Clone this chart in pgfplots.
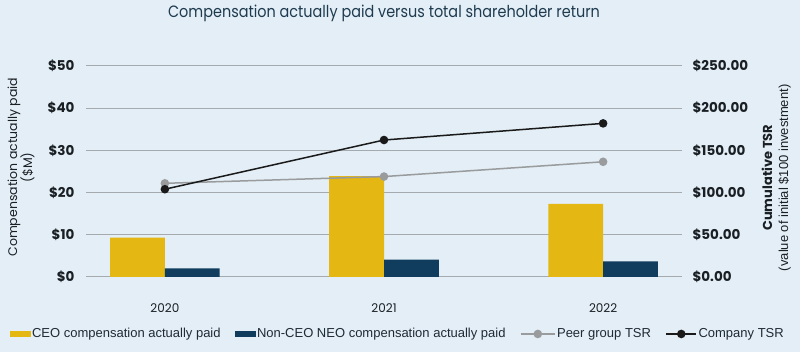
\documentclass[border=0pt]{standalone}
\usepackage{pgfplots}
\pgfplotsset{compat=1.18}
\usepackage{fontspec}
\setmainfont{Poppins}
\newfontfamily\legfont{Liberation Sans}
\newfontfamily\titlefont[FakeStretch=0.88]{Poppins}
\definecolor{bg}{HTML}{E3EEF6}
\definecolor{titlec}{HTML}{1F3B4F}
\definecolor{tickc}{HTML}{1A1F24}
\definecolor{gridc}{HTML}{A5AAAE}
\definecolor{ceoc}{HTML}{E4B712}
\definecolor{neoc}{HTML}{103D5E}
\definecolor{peerc}{HTML}{999B9D}
\definecolor{compc}{HTML}{1A1A1A}
\definecolor{legc}{HTML}{1E2A35}
\begin{document}
\begin{tikzpicture}[x=1pt,y=1pt]
\fill[bg] (0,0) rectangle (800,352);
\node[font=\titlefont\fontsize{16.4}{18}\selectfont, text=titlec] at (384,339) {Compensation actually paid versus total shareholder return};
\begin{axis}[
  at={(86pt,75pt)}, anchor=south west, scale only axis,
  width=596pt, height=211pt,
  xmin=-0.36, xmax=2.36, ymin=0, ymax=50,
  axis line style={draw=none}, major tick length=0pt,
  ymajorgrids, grid style={color=gridc, line width=1pt},
  ytick={0,10,20,30,40,50},
  yticklabels={\$0,\$10,\$20,\$30,\$40,\$50},
  yticklabel style={font=\bfseries\fontsize{13.5}{15}\selectfont, text=tickc, xshift=-8pt},
  xtick={0,1,2}, xticklabels={2020,2021,2022},
  xticklabel style={font=\fontsize{12}{14}\selectfont, text=tickc, yshift=-23pt},
  ylabel={Compensation actually paid\\(\$M)},
  ylabel style={at={(axis description cs:-0.109,0.52)}, anchor=center, align=center, font=\fontsize{12.5}{15}\selectfont, text=tickc},
]
\addplot[ybar, bar width=0.25, bar shift=-0.125, fill=ceoc, draw=none] coordinates {(0,9.3) (1,23.9) (2,17.3)};
\addplot[ybar, bar width=0.25, bar shift=0.125, fill=neoc, draw=none] coordinates {(0,2.05) (1,4.1) (2,3.7)};
\end{axis}
\begin{axis}[
  at={(86pt,75pt)}, anchor=south west, scale only axis,
  width=596pt, height=211pt,
  xmin=-0.36, xmax=2.36, ymin=0, ymax=250,
  axis x line=none, axis y line*=right,
  axis line style={draw=none}, major tick length=0pt,
  ytick={0,50,100,150,200,250},
  yticklabels={\$0.00,\$50.00,\$100.00,\$150.00,\$200.00,\$250.00},
  yticklabel style={font=\bfseries\fontsize{13.5}{15}\selectfont, text=tickc, xshift=7pt},
  ylabel={{\bfseries Cumulative TSR}\\{\legfont(value of initial \$100 investment)}},
  ylabel style={at={(axis description cs:1.158,0.47)}, anchor=center, align=center, font=\fontsize{13}{16}\selectfont, text=tickc},
  legend style={at={(axis description cs:0.523,-0.27)}, anchor=center, draw=none, fill=none,
    legend columns=4, font=\legfont\fontsize{13}{15}\selectfont, text=legc,
    nodes={inner sep=1.5pt},
    /tikz/every even column/.append style={column sep=13pt}},
  legend cell align=left,
]
\addlegendimage{legend image code/.code={\fill[ceoc] (0pt,-2.5pt) rectangle (20pt,2.5pt);}}
\addlegendentry{CEO compensation actually paid}
\addlegendimage{legend image code/.code={\fill[neoc] (0pt,-2.5pt) rectangle (20pt,2.5pt);}}
\addlegendentry{Non-CEO NEO compensation actually paid}
\addplot[color=peerc, line width=1.5pt, mark=*, mark size=3.5pt, mark options={fill=peerc, draw=none},
  legend image code/.code={\draw[peerc, line width=1.5pt] (0pt,0pt)--(34pt,0pt); \fill[peerc] (17pt,0pt) circle (3.5pt);}]
  coordinates {(0,111) (1,119) (2,136.5)};
\addlegendentry{Peer group TSR}
\addplot[color=compc, line width=1.5pt, mark=*, mark size=3.5pt, mark options={fill=compc, draw=none},
  legend image code/.code={\draw[compc, line width=1.5pt] (0pt,0pt)--(30pt,0pt); \fill[compc] (15pt,0pt) circle (3.5pt);}]
  coordinates {(0,104) (1,162.3) (2,182)};
\addlegendentry{Company TSR}
\end{axis}
\pgfresetboundingbox
\path (0,0) rectangle (800,352);
\end{tikzpicture}
\end{document}
